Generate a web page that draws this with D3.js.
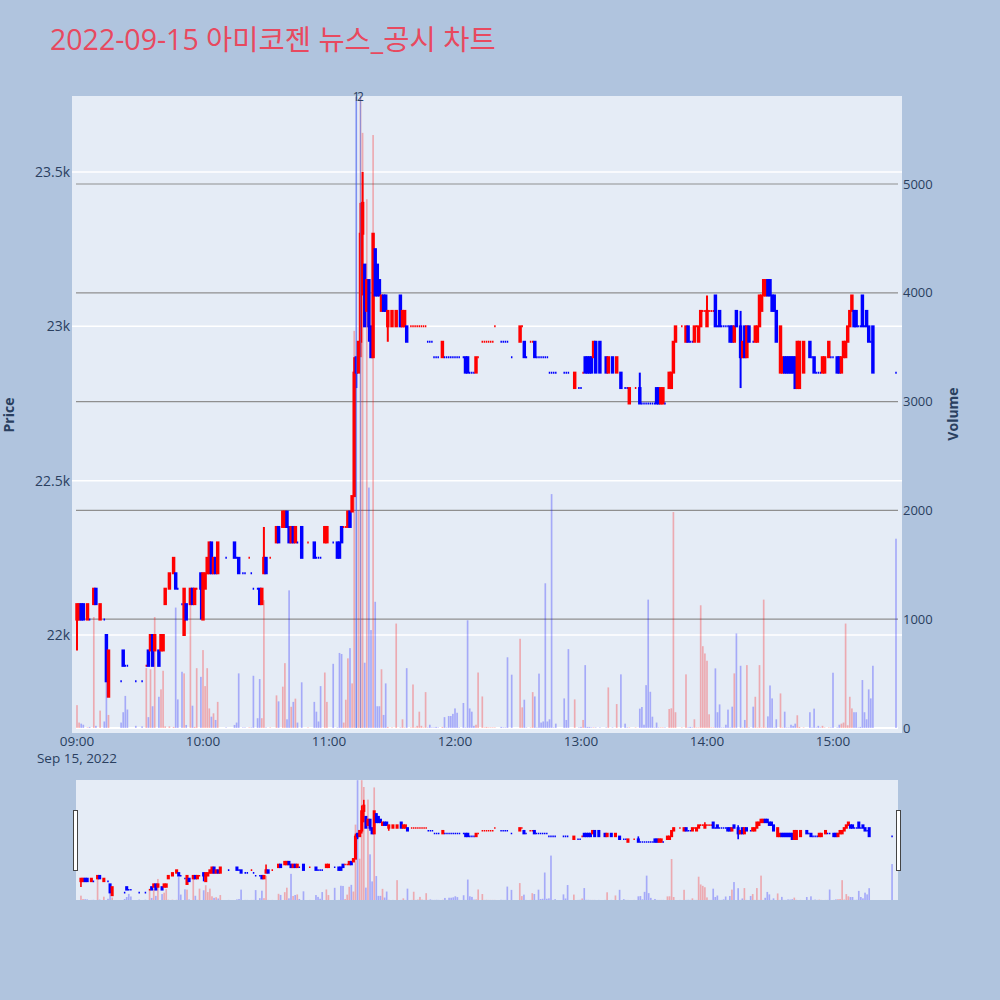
<!DOCTYPE html>
<html>
<head>
<meta charset="utf-8">
<script src="https://cdn.jsdelivr.net/npm/d3@7"></script>
<style>
  html, body { margin: 0; padding: 0; background: #b0c4de; }
  svg { display: block; font-family: "Open Sans", "Noto Sans CJK KR", sans-serif; }
</style>
</head>
<body>
<svg id="chart" width="1000" height="1000"></svg>
<script>
// 1-minute candles, 2022-09-15
const times = [
  "09:00","09:01","09:02","09:03","09:05","09:06","09:08","09:09","09:11","09:13",
  "09:14","09:15","09:21","09:22","09:23","09:24","09:28","09:31","09:33","09:34",
  "09:35","09:36","09:37","09:39","09:40","09:41","09:42","09:44","09:46","09:47",
  "09:48","09:50","09:51","09:52","09:54","09:55","09:56","09:57","09:59","10:00",
  "10:01","10:02","10:03","10:04","10:05","10:06","10:07","10:11","10:15","10:16",
  "10:17","10:19","10:20","10:22","10:23","10:24","10:26","10:27","10:28","10:29",
  "10:30","10:32","10:35","10:36","10:38","10:39","10:40","10:41","10:42","10:43",
  "10:44","10:45","10:47","10:50","10:53","10:54","10:55","10:56","10:58","10:59",
  "11:02","11:04","11:05","11:06","11:07","11:08","11:09","11:10","11:11","11:12",
  "11:13","11:14","11:15","11:16","11:17","11:18","11:19","11:20","11:21","11:22",
  "11:23","11:24","11:25","11:26","11:27","11:28","11:30","11:32","11:34","11:35",
  "11:36","11:37","11:39","11:40","11:41","11:42","11:43","11:44","11:45","11:46",
  "11:47","11:48","11:49","11:50","11:51","11:52","11:54","11:55","11:56","11:57",
  "11:58","11:59","12:00","12:01","12:02","12:04","12:05","12:06","12:07","12:08",
  "12:09","12:10","12:11","12:13","12:14","12:15","12:16","12:17","12:18","12:19",
  "12:22","12:23","12:24","12:25","12:27","12:31","12:32","12:33","12:34","12:36",
  "12:37","12:38","12:39","12:40","12:41","12:42","12:43","12:44","12:45","12:46",
  "12:47","12:48","12:52","12:53","12:54","12:57","12:59","13:00","13:01","13:02",
  "13:03","13:04","13:05","13:06","13:07","13:09","13:12","13:13","13:15","13:17",
  "13:19","13:21","13:22","13:23","13:26","13:28","13:29","13:30","13:31","13:32",
  "13:33","13:34","13:35","13:36","13:37","13:38","13:39","13:40","13:42","13:43",
  "13:44","13:45","13:48","13:50","13:51","13:52","13:53","13:54","13:55","13:56",
  "13:57","13:58","13:59","14:00","14:01","14:02","14:03","14:04","14:05","14:06",
  "14:07","14:08","14:09","14:10","14:11","14:12","14:13","14:14","14:16","14:17",
  "14:18","14:19","14:20","14:22","14:23","14:24","14:25","14:26","14:27","14:28",
  "14:29","14:30","14:31","14:32","14:33","14:35","14:36","14:37","14:38","14:39",
  "14:40","14:41","14:42","14:43","14:44","14:46","14:49","14:50","14:51","14:52",
  "14:53","14:54","14:55","14:56","14:58","14:59","15:00","15:02","15:03","15:04",
  "15:05","15:06","15:07","15:08","15:09","15:10","15:11","15:12","15:13","15:14",
  "15:15","15:16","15:17","15:18","15:19","15:30"
]
const open = [
  22050,22050,22100,22100,22050,22050,22100,22150,22050,22050,
  22000,21800,21850,21950,21900,21900,21850,21850,21900,21950,
  21950,22000,21950,21950,21950,21950,22100,22150,22200,22200,
  22150,22100,22000,22100,22100,22150,22100,22150,22200,22050,
  22150,22200,22200,22300,22200,22250,22200,22250,22300,22250,
  22250,22200,22200,22250,22200,22150,22150,22150,22100,22200,
  22250,22250,22300,22350,22350,22350,22400,22350,22300,22350,
  22300,22300,22350,22300,22300,22250,22250,22250,22300,22300,
  22300,22300,22300,22350,22350,22350,22350,22400,22400,22450,
  22900,22850,22950,23300,23200,23050,23150,23000,22900,23250,
  23200,23150,23050,23100,23100,23000,23000,23000,23100,23000,
  23000,23000,23000,23000,23000,23000,23000,23000,23000,23000,
  22950,22950,22950,22900,22900,22900,22900,22900,22900,22900,
  22900,22900,22900,22900,22900,22900,22900,22900,22850,22850,
  22850,22850,22900,22950,22950,22950,22950,22950,22950,23000,
  22950,22950,22950,22950,22900,22950,23000,22950,22900,22950,
  22950,22950,22900,22900,22900,22900,22900,22900,22850,22850,
  22850,22850,22850,22850,22850,22800,22800,22800,22850,22900,
  22900,22900,22900,22900,22950,22950,22900,22850,22900,22850,
  22850,22800,22800,22750,22800,22800,22750,22750,22750,22750,
  22750,22750,22750,22800,22800,22750,22750,22750,22800,22800,
  22850,22950,23000,22950,23000,22950,22950,22950,23000,22950,
  23000,23050,23050,23000,23050,23050,23050,23100,23000,23050,
  23000,23000,23000,23000,23000,23000,22950,23050,23000,22900,
  23000,22900,23000,22950,22950,22950,23000,23050,23100,23100,
  23150,23150,23100,23100,23050,22850,22850,22900,22900,22900,
  22900,22900,22900,22800,22800,22850,22950,22900,22900,22850,
  22850,22850,22850,22850,22900,22900,22900,22900,22900,22850,
  22900,22900,22950,23000,23050,23050,23050,23000,23000,23100,
  23000,23050,23000,22950,23000,22850
]
const high = [
  22100,22100,22100,22100,22100,22050,22150,22150,22100,22050,
  22000,21950,21850,21950,21900,21900,21850,21850,21900,21950,
  22000,22000,22000,21950,22000,22000,22150,22200,22250,22200,
  22150,22100,22150,22100,22150,22150,22150,22150,22200,22200,
  22200,22250,22300,22300,22250,22250,22300,22250,22300,22250,
  22250,22200,22200,22250,22200,22150,22150,22150,22150,22350,
  22250,22250,22350,22350,22400,22400,22400,22350,22350,22350,
  22350,22300,22350,22300,22300,22250,22250,22250,22350,22350,
  22300,22300,22300,22350,22350,22350,22400,22400,22450,22900,
  22900,22950,23400,23500,23200,23150,23150,23000,23300,23250,
  23200,23150,23100,23100,23100,23050,23050,23050,23100,23050,
  23050,23000,23000,23000,23000,23000,23000,23000,23000,23000,
  22950,22950,22950,22900,22900,22900,22950,22900,22900,22900,
  22900,22900,22900,22900,22900,22900,22900,22900,22850,22850,
  22850,22900,22900,22950,22950,22950,22950,22950,22950,23000,
  22950,22950,22950,22950,22900,23000,23000,22950,22900,22950,
  22950,22950,22900,22900,22900,22900,22900,22900,22850,22850,
  22850,22850,22850,22850,22850,22850,22800,22800,22850,22900,
  22900,22900,22900,22950,22950,22950,22900,22900,22900,22900,
  22850,22800,22800,22800,22800,22850,22750,22750,22750,22750,
  22750,22750,22750,22800,22800,22800,22800,22750,22850,22850,
  22950,23000,23000,23000,23000,22950,22950,23000,23000,23000,
  23050,23050,23050,23100,23050,23050,23050,23100,23000,23050,
  23000,23000,23000,23000,23000,23000,23000,23050,23050,22950,
  23000,23000,23000,22950,23000,23000,23100,23100,23150,23150,
  23150,23150,23100,23100,23050,23000,22900,22900,22900,22900,
  22900,22900,22900,22950,22950,22950,22950,22900,22900,22850,
  22850,22850,22900,22900,22950,22900,22900,22900,22900,22900,
  22950,22950,23000,23050,23100,23050,23050,23000,23000,23100,
  23000,23050,23000,22950,23000,22850
]
const low = [
  21950,22050,22050,22050,22050,22050,22100,22100,22050,22050,
  21850,21800,21850,21900,21900,21900,21850,21850,21900,21900,
  21950,21900,21950,21900,21950,21950,22100,22150,22200,22150,
  22150,22100,22000,22050,22100,22100,22100,22150,22050,22050,
  22150,22200,22200,22200,22200,22200,22200,22250,22250,22250,
  22200,22200,22200,22250,22200,22150,22150,22100,22100,22200,
  22200,22250,22300,22300,22350,22350,22350,22300,22300,22300,
  22300,22300,22250,22300,22250,22250,22250,22250,22300,22300,
  22300,22250,22250,22300,22350,22350,22350,22350,22400,22450,
  22800,22850,22900,23100,23000,23050,22950,22900,22900,23100,
  23100,23100,23050,23050,23050,22950,23000,23000,23000,23000,
  23000,22950,23000,23000,23000,23000,23000,23000,23000,23000,
  22950,22950,22950,22900,22900,22900,22900,22900,22900,22900,
  22900,22900,22900,22900,22900,22900,22850,22850,22850,22850,
  22850,22850,22900,22950,22950,22950,22950,22950,22950,23000,
  22950,22950,22950,22950,22900,22950,23000,22900,22900,22950,
  22950,22900,22900,22900,22900,22900,22900,22900,22850,22850,
  22850,22850,22850,22850,22850,22800,22800,22800,22850,22850,
  22850,22850,22850,22900,22850,22850,22850,22850,22850,22850,
  22800,22800,22800,22750,22800,22750,22750,22750,22750,22750,
  22750,22750,22750,22750,22750,22750,22750,22750,22800,22800,
  22850,22950,23000,22950,22950,22950,22950,22950,23000,22950,
  23000,23050,23050,23000,23050,23050,23050,23000,23000,23000,
  23000,23000,23000,23000,22950,22950,22950,23000,22800,22900,
  22900,22900,22950,22950,22950,22950,23000,23050,23100,23100,
  23100,23100,23050,23050,22950,22850,22850,22850,22850,22850,
  22850,22850,22800,22800,22800,22850,22900,22900,22850,22850,
  22850,22850,22850,22850,22900,22900,22900,22850,22850,22850,
  22900,22900,22950,23000,23050,23000,23000,23000,23000,23000,
  23000,23000,22950,22950,22850,22850
]
const close = [
  22100,22100,22050,22050,22100,22050,22150,22100,22100,22050,
  21850,21950,21850,21900,21900,21900,21850,21850,21900,21900,
  22000,21900,22000,21900,22000,22000,22150,22200,22250,22150,
  22150,22100,22150,22050,22150,22100,22150,22150,22150,22200,
  22200,22250,22300,22200,22250,22200,22300,22250,22250,22250,
  22200,22200,22200,22250,22200,22150,22150,22100,22150,22250,
  22200,22250,22350,22300,22400,22400,22350,22300,22350,22300,
  22350,22300,22250,22300,22250,22250,22250,22250,22350,22350,
  22300,22250,22250,22300,22350,22350,22400,22350,22450,22850,
  22850,22950,23300,23400,23000,23150,23000,22900,23300,23100,
  23100,23100,23100,23050,23050,23050,23050,23050,23000,23050,
  23050,22950,23000,23000,23000,23000,23000,23000,23000,23000,
  22950,22950,22950,22900,22900,22900,22950,22900,22900,22900,
  22900,22900,22900,22900,22900,22900,22850,22850,22850,22850,
  22850,22900,22900,22950,22950,22950,22950,22950,22950,23000,
  22950,22950,22950,22950,22900,23000,23000,22900,22900,22950,
  22950,22900,22900,22900,22900,22900,22900,22900,22850,22850,
  22850,22850,22850,22850,22850,22850,22800,22800,22850,22850,
  22850,22850,22850,22950,22850,22850,22850,22900,22850,22900,
  22800,22800,22800,22800,22800,22750,22750,22750,22750,22750,
  22750,22750,22750,22750,22750,22800,22800,22750,22850,22850,
  22950,23000,23000,23000,22950,22950,22950,23000,23000,23000,
  23050,23050,23050,23050,23050,23050,23050,23000,23000,23000,
  23000,23000,23000,23000,22950,22950,23000,23000,22900,22950,
  22900,23000,22950,22950,23000,23000,23100,23100,23150,23150,
  23100,23100,23050,23050,22950,23000,22900,22850,22850,22850,
  22850,22850,22800,22950,22950,22950,22900,22900,22850,22850,
  22850,22850,22900,22900,22950,22900,22900,22850,22850,22900,
  22950,22950,23000,23050,23100,23000,23000,23000,23000,23000,
  23000,23000,22950,22950,22850,22850
]
const volume = [
  210,50,40,30,5,10,1020,20,160,60,
  425,120,50,145,295,170,20,15,550,100,
  540,200,1020,287,355,526,15,15,10,1107,
  263,517,502,28,1144,205,10,550,470,716,
  385,550,180,104,135,74,240,5,28,50,
  502,5,5,5,5,480,90,450,90,1175,
  5,5,300,245,380,596,80,1265,195,240,
  270,50,420,5,240,150,60,385,510,240,
  590,5,690,680,50,260,640,734,410,3650,
  5800,2000,5800,5470,600,4860,2210,900,5450,1160,
  200,200,540,120,410,10,5,960,5,80,
  5,550,5,400,5,20,150,20,5,330,
  5,30,5,5,10,5,10,100,5,110,
  110,130,180,140,5,230,5,990,180,150,
  20,30,510,290,5,10,5,5,5,5,
  10,5,5,650,490,820,190,260,5,5,
  330,290,5,500,50,60,1330,60,80,2150,
  5,40,272,74,725,263,5,10,74,578,
  10,10,5,5,5,5,5,373,5,220,
  493,40,5,5,5,178,193,30,394,1180,
  333,104,5,50,5,5,5,5,175,181,
  1985,145,5,493,5,10,5,80,5,5,
  1128,752,685,618,126,5,5,548,145,217,
  5,5,30,169,5,196,502,869,572,5,
  74,578,5,196,287,5,578,5,1180,5,
  107,391,272,5,80,318,5,150,5,5,
  30,20,40,117,10,5,145,5,178,5,
  20,5,20,5,5,5,508,5,30,40,
  50,960,25,287,180,145,145,5,10,441,
  145,80,355,272,572,1740
]

// news / disclosure markers
const newsTimes = ["11:13", "11:15"]
const newsLabels = ["1", "2"]

const priceTicks = [22000, 22500, 23000, 23500]
const volumeTicks = [0, 1000, 2000, 3000, 4000, 5000]
const hourTicks = ["09:00", "10:00", "11:00", "12:00", "13:00", "14:00", "15:00"]

const RED = "#ff0000"
const BLUE = "#0000ff"
const FONT_COLOR = "#2a3f5f"

const svg = d3.select("#chart")
const plot = { left: 72, right: 902, top: 96, bottom: 733 }

const parseT = (s) => {
  const [h, m] = s.split(":").map(Number)
  return new Date(2022, 8, 15, h, m)
}

const x = d3.scaleTime().domain([parseT("09:00"), parseT("15:00")]).range([77, 833])
const y = d3.scaleLinear().domain([22000, 23500]).range([635, 172])
const yv = d3.scaleLinear().domain([0, 5000]).range([728, 184])

const data = times.map((t, i) => ({
  t: parseT(t), o: open[i], h: high[i], l: low[i], c: close[i], v: volume[i],
}))

// plotly-like direction: flat candles follow the previous close
let prevC = null
let inc = true
data.forEach((d) => {
  if (d.c > d.o) inc = true
  else if (d.c < d.o) inc = false
  else if (prevC !== null && d.c !== prevC) inc = d.c > prevC
  d.inc = inc
  prevC = d.c
})

// title
svg.append("text")
  .attr("x", 50).attr("y", 50)
  .attr("font-size", 28.5)
  .attr("fill", "#e8495f")
  .text("2022-09-15 아미코젠 뉴스_공시 차트")

// plot background
svg.append("rect")
  .attr("x", plot.left).attr("y", plot.top)
  .attr("width", plot.right - plot.left).attr("height", plot.bottom - plot.top)
  .attr("fill", "#e5ecf6")

svg.append("clipPath").attr("id", "clip")
  .append("rect")
  .attr("x", plot.left).attr("y", plot.top)
  .attr("width", plot.right - plot.left).attr("height", plot.bottom - plot.top)

// grids
const grid = svg.append("g")
grid.selectAll("line.pg").data(priceTicks).join("line")
  .attr("x1", plot.left).attr("x2", plot.right)
  .attr("y1", (d) => y(d)).attr("y2", (d) => y(d))
  .attr("stroke", "#fff").attr("stroke-width", 1.5)
grid.selectAll("line.vg").data(volumeTicks.filter((d) => d > 0)).join("line")
  .attr("x1", 76).attr("x2", 898)
  .attr("y1", (d) => yv(d)).attr("y2", (d) => yv(d))
  .attr("stroke", "#8f8f8f").attr("stroke-width", 1.2)
grid.append("line")
  .attr("x1", 76).attr("x2", 898)
  .attr("y1", yv(0)).attr("y2", yv(0))
  .attr("stroke", "#fff").attr("stroke-width", 2)

function candlePath(d, xs, ys, w) {
  const cx = xs(d.t)
  const y0 = ys(d.o)
  const y1 = ys(d.c)
  return `M${cx - w / 2},${y0}H${cx + w / 2}V${y1}H${cx - w / 2}Z`
}

function drawCandles(g, xs, ys, boxW, lineW) {
  g.selectAll("line").data(data).join("line")
    .attr("x1", (d) => xs(d.t)).attr("x2", (d) => xs(d.t))
    .attr("y1", (d) => ys(d.h)).attr("y2", (d) => ys(d.l))
    .attr("stroke", (d) => (d.inc ? RED : BLUE))
    .attr("stroke-width", lineW)
  g.selectAll("path").data(data).join("path")
    .attr("d", (d) => candlePath(d, xs, ys, boxW))
    .attr("fill", (d) => (d.inc ? RED : BLUE))
    .attr("stroke", (d) => (d.inc ? RED : BLUE))
    .attr("stroke-width", lineW)
}

function drawVolume(g, xs, ys, barW) {
  g.selectAll("rect").data(data).join("rect")
    .attr("x", (d) => xs(d.t) - barW / 2)
    .attr("width", barW)
    .attr("y", (d) => ys(d.v))
    .attr("height", (d) => ys(0) - ys(d.v))
    .attr("fill", (d) => (d.inc ? RED : BLUE))
    .attr("opacity", 0.28)
}

const minutePx = x(parseT("09:01")) - x(parseT("09:00"))

const main = svg.append("g").attr("clip-path", "url(#clip)")
drawCandles(main.append("g"), x, y, minutePx * 0.7, 2)
drawVolume(main.append("g"), x, yv, minutePx * 0.8)

// news lines + labels
const news = svg.append("g")
news.selectAll("line").data(newsTimes).join("line")
  .attr("x1", (d) => x(parseT(d))).attr("x2", (d) => x(parseT(d)))
  .attr("y1", plot.top).attr("y2", yv(0))
  .attr("stroke", "#4f74e8").attr("stroke-opacity", 0.55).attr("stroke-width", 1.2)
news.selectAll("text").data(newsTimes).join("text")
  .attr("x", (d) => x(parseT(d)))
  .attr("y", plot.top + 5)
  .attr("text-anchor", "middle")
  .attr("font-size", 12)
  .attr("fill", FONT_COLOR)
  .text((d, i) => newsLabels[i])

// axes labels
const axes = svg.append("g").attr("fill", FONT_COLOR)
axes.selectAll("text.yl").data(priceTicks).join("text")
  .attr("x", 70).attr("y", (d) => y(d)).attr("dy", "0.35em")
  .attr("text-anchor", "end").attr("font-size", 14)
  .text((d) => d3.format("~s")(d))
axes.selectAll("text.yr").data(volumeTicks).join("text")
  .attr("class", "yr")
  .attr("x", 903).attr("y", (d) => yv(d)).attr("dy", "0.35em")
  .attr("font-size", 13)
  .text((d) => d)
axes.selectAll("text.xl").data(hourTicks).join("text")
  .attr("class", "xl")
  .attr("x", (d) => x(parseT(d))).attr("y", 746)
  .attr("text-anchor", "middle").attr("font-size", 13.5)
  .text((d) => d)
axes.append("text")
  .attr("x", x(parseT("09:00"))).attr("y", 763)
  .attr("text-anchor", "middle").attr("font-size", 13.5)
  .text(d3.timeFormat("%b %-d, %Y")(parseT("09:00")))

axes.append("text")
  .attr("transform", "translate(14,415) rotate(-90)")
  .attr("text-anchor", "middle").attr("font-size", 14).attr("font-weight", "bold")
  .text("Price")
axes.append("text")
  .attr("transform", "translate(958,414) rotate(-90)")
  .attr("text-anchor", "middle").attr("font-size", 14).attr("font-weight", "bold")
  .text("Volume")

// range slider
const slider = { left: 76, right: 898, top: 780, bottom: 900 }
svg.append("rect")
  .attr("x", slider.left).attr("y", slider.top)
  .attr("width", slider.right - slider.left).attr("height", slider.bottom - slider.top)
  .attr("fill", "#e5ecf6")
const sx = d3.scaleTime().domain([x.invert(plot.left), x.invert(plot.right)]).range([slider.left, slider.right])
const sy = d3.scaleLinear().domain([y.invert(plot.bottom), y.invert(plot.top)]).range([902, 786])
const syv = d3.scaleLinear().domain([0, yv.invert(plot.top)]).range([900, 780])
const sg = svg.append("g")
drawCandles(sg.append("g"), sx, sy, minutePx * 0.7, 1.6)
drawVolume(sg.append("g"), sx, syv, minutePx * 0.8)

svg.selectAll("rect.grab").data([slider.left - 2.5, slider.right - 1.5]).join("rect")
  .attr("class", "grab")
  .attr("x", (d) => d).attr("y", 810.5)
  .attr("width", 4).attr("height", 60)
  .attr("fill", "#fff").attr("stroke", "#444").attr("stroke-width", 1)
</script>
</body>
</html>
